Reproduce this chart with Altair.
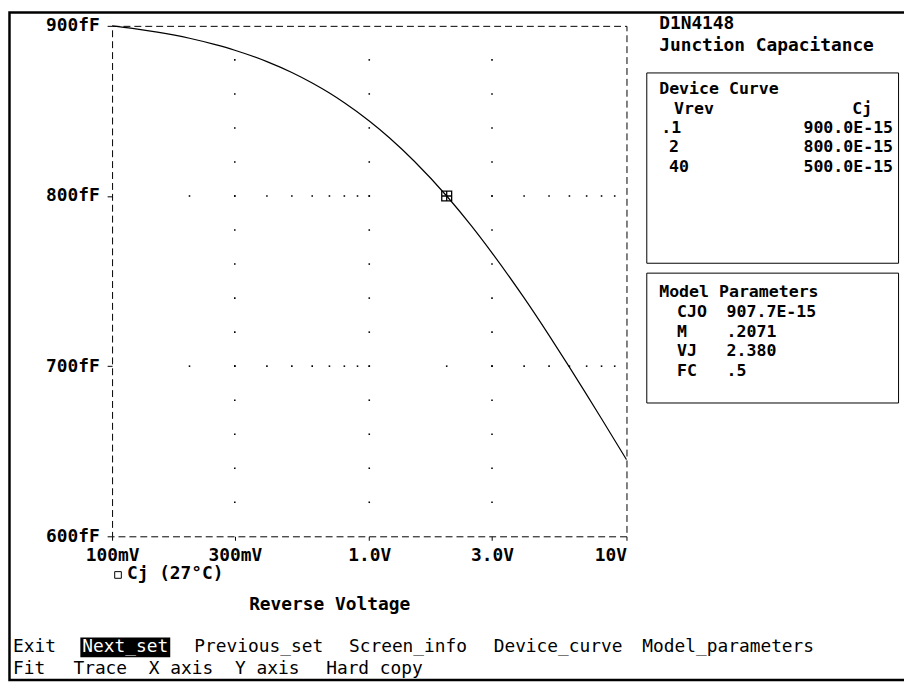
import altair as alt
import pandas as pd

# ---------------- data ----------------
v_rev = [0.1, 0.12, 0.15, 0.2, 0.25, 0.3, 0.4, 0.5, 0.6, 0.7, 0.8, 1.0, 1.2, 1.5,
         2.0, 2.5, 3.0, 4.0, 5.0, 6.0, 7.0, 8.0, 10.0]
cj_ff = [900.0, 898.5, 896.3, 892.7, 889.1, 885.7, 879.0, 872.6, 866.4, 860.5, 854.8,
         844.1, 834.1, 820.3, 800.0, 782.3, 766.6, 740.1, 718.1, 699.4, 683.3, 669.1, 645.1]
marker_v = [2.0]
marker_c = [800.0]

x_tick_values = [0.1, 0.3, 1, 3, 10]
x_tick_labels = ["100mV", "300mV", "1.0V", "3.0V", "10V"]
y_tick_values = [600, 700, 800, 900]
y_tick_labels = ["600fF", "700fF", "800fF", "900fF"]

grid_minor_x = [0.2, 0.3, 0.4, 0.5, 0.6, 0.7, 0.8, 0.9, 1, 2, 3, 4, 5, 6, 7, 8, 9]
grid_rows = [700, 800]
grid_cols = [0.3, 1, 3]
grid_minor_y = [620, 640, 660, 680, 700, 720, 740, 760, 780, 800, 820, 840, 860, 880]

title_lines = ["D1N4148", "Junction Capacitance"]
device_title = "Device Curve"
device_headers = ["Vrev", "Cj"]
device_vrev = [".1", "2", "40"]
device_cj = ["900.0E-15", "800.0E-15", "500.0E-15"]
param_title = "Model Parameters"
param_names = ["CJO", "M", "VJ", "FC"]
param_values = ["907.7E-15", ".2071", "2.380", ".5"]
legend_label = "Cj (27\u00b0C)"
x_title = "Reverse Voltage"
menu_line1 = ["Exit", "Next_set", "Previous_set", "Screen_info", "Device_curve", "Model_parameters"]
menu_line2 = ["Fit", "Trace", "X axis", "Y axis", "Hard copy"]

# ---------------- layout ----------------
FONT = "DejaVu Sans Mono"
FS = 18
FSP = 16.7                 # panel text
CW = FS * 0.602            # character advance
OX, OY = 113, 23          # image position of the plot origin
PW, PH = 519, 515          # plot area size
TOTAL_W, TOTAL_H = 904, 677

curve_df = pd.DataFrame({"v": v_rev, "c": cj_ff})
marker_df = pd.DataFrame({"v": marker_v, "c": marker_c})
dots = [{"v": x, "c": y} for y in grid_rows for x in grid_minor_x] + \
       [{"v": x, "c": y} for x in grid_cols for y in grid_minor_y]
dots_df = pd.DataFrame(dots)

xlab_expr = "[" + ",".join("'%s'" % s for s in x_tick_labels) + "][indexof([" + \
    ",".join(str(v) for v in x_tick_values) + "], datum.value)]"
ylab_expr = "[" + ",".join("'%s'" % s for s in y_tick_labels) + "][indexof([" + \
    ",".join(str(v) for v in y_tick_values) + "], datum.value)]"

xs = alt.Scale(type="log", domain=[0.1, 10], nice=False)
ys = alt.Scale(domain=[600, 900], nice=False, zero=False)

x_axis = alt.Axis(values=x_tick_values, labelExpr=xlab_expr, grid=False, domain=False,
                  tickSize=4, tickColor="black", labelPadding=6,
                  labelAlign={"condition": {"test": "datum.value >= 10", "value": "right"}, "value": "center"},
                  labelFont=FONT, labelFontSize=FS, labelFontWeight="bold", labelColor="black",
                  title=x_title, titleFont=FONT, titleFontSize=FS, titleFontWeight="bold",
                  titleColor="black", titleX=332 - OX, titleY=607 - (OY + PH),
                  titleBaseline="middle", titleAlign="center")
y_axis = alt.Axis(values=y_tick_values, labelExpr=ylab_expr, grid=False, domain=False,
                  tickSize=5, tickColor="black", labelPadding=8,
                  labelFont=FONT, labelFontSize=FS, labelFontWeight="bold", labelColor="black",
                  title=None)

curve = alt.Chart(curve_df).mark_line(color="black", strokeWidth=1.2, interpolate="monotone").encode(
    x=alt.X("v:Q", scale=xs, axis=x_axis),
    y=alt.Y("c:Q", scale=ys, axis=y_axis),
)
grid = alt.Chart(dots_df).mark_square(size=2.5, color="black", opacity=1).encode(
    x=alt.X("v:Q", scale=xs), y=alt.Y("c:Q", scale=ys))
marker = alt.Chart(marker_df).mark_point(
    shape="M-1,-1H1V1H-1Z M0,-1V1 M-1,0H1", size=100, filled=False,
    color="black", strokeWidth=1.3, opacity=1).encode(
    x=alt.X("v:Q", scale=xs), y=alt.Y("c:Q", scale=ys))

one = pd.DataFrame({"k": [0]})


def txt(s, ix, iy, align="left", weight="bold", color="black", font=FONT, size=FS):
    return alt.Chart(one).mark_text(text=s, align=align, baseline="middle", font=font,
                                    fontSize=size, fontWeight=weight, color=color).encode(
        x=alt.value(ix - OX), y=alt.value(iy - OY))


def box(ix1, iy1, ix2, iy2, filled=False, sw=1):
    if filled:
        m = alt.Chart(one).mark_rect(color="black", opacity=1)
    else:
        m = alt.Chart(one).mark_rect(fillOpacity=0, stroke="black", strokeWidth=sw)
    return m.encode(x=alt.value(ix1 - OX), x2=alt.value(ix2 - OX),
                    y=alt.value(iy1 - OY), y2=alt.value(iy2 - OY))


layers = [grid, curve, marker]

# outer screen border (top, left, bottom); the page margin is 8px
layers.append(box(9.5, 9.5, 1000, 8 + TOTAL_H - 2, sw=2.5))

# right-side titles and panels
layers.append(txt(title_lines[0], 665, 21))
layers.append(txt(title_lines[1], 665, 43))
layers.append(box(652.5, 70.5, 906.5, 262.5))
device_rows = [87, 106.5, 126, 145.5, 165]
layers.append(txt(device_title, 665, device_rows[0], size=FSP))
layers.append(txt(device_headers[0], 680, device_rows[1], size=FSP))
layers.append(txt(device_headers[1], 880, device_rows[1], align="right", size=FSP))
for i, (vv, cc) in enumerate(zip(device_vrev, device_cj)):
    yy = device_rows[2 + i]
    layers.append(txt(vv, 667 if vv.startswith(".") else 675, yy, size=FSP))
    layers.append(txt(cc, 901, yy, align="right", size=FSP))
layers.append(box(652.5, 272.5, 906.5, 403.5))
param_rows = [291.5, 311.5, 331.5, 351.5, 371.5]
layers.append(txt(param_title, 665, param_rows[0], size=FSP))
for i, (nn, vv) in enumerate(zip(param_names, param_values)):
    layers.append(txt(nn, 683, param_rows[1 + i], size=FSP))
    layers.append(txt(vv, 733, param_rows[1 + i], size=FSP))

# legend
layers.append(alt.Chart(one).mark_point(shape="square", size=45, filled=False, color="black",
                                        strokeWidth=1, opacity=1).encode(
    x=alt.value(119 - OX), y=alt.value(577 - OY)))
layers.append(txt(legend_label, 128, 576))

# menu
m1_x = [13, 83, 196, 352, 498, 648]
m2_x = [13, 74, 150, 237, 329]
layers.append(box(m1_x[1] - 2, 640, m1_x[1] + 8 * CW + 2, 660, filled=True))
for i, (w, xx) in enumerate(zip(menu_line1, m1_x)):
    layers.append(txt(w, xx, 650, weight="normal", color="white" if i == 1 else "black"))
for w, xx in zip(menu_line2, m2_x):
    layers.append(txt(w, xx, 672, weight="normal"))

chart = alt.layer(*layers).properties(
    width=PW, height=PH,
    autosize=alt.AutoSizeParams(type="none"),
    padding={"left": OX - 8, "top": OY - 8, "right": TOTAL_W - (OX - 8) - PW,
             "bottom": TOTAL_H - (OY - 8) - PH},
    background="white",
).configure_view(stroke="black", strokeDash=[7, 4], strokeWidth=1)

chart.save("out.html", embed_options={"renderer": "svg", "actions": False})
